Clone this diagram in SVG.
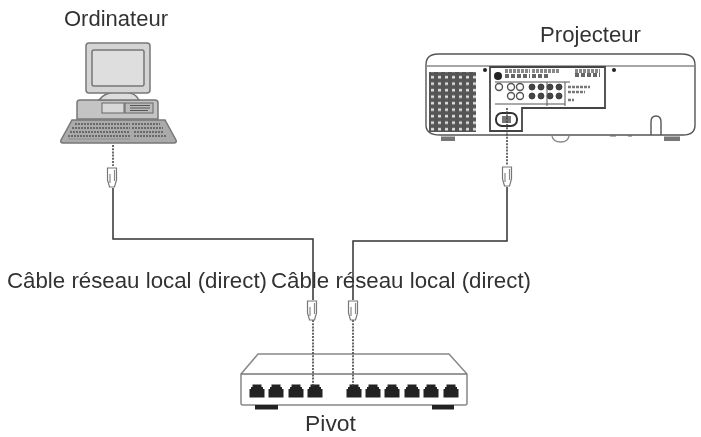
<svg xmlns="http://www.w3.org/2000/svg" width="701" height="437" viewBox="0 0 701 437">
<style>
text{font-family:"Liberation Sans",Arial,sans-serif;fill:#333;font-size:22px}
.o{fill:#fff;stroke:#777;stroke-width:1.5}
.g{fill:#c4c4c4;stroke:#777;stroke-width:1.5}
.k{fill:#222;stroke:none}
.w{fill:none;stroke:#333;stroke-width:1.5}
.dot{fill:none;stroke:#444;stroke-width:1.6;stroke-dasharray:2 1.2}
.plug{fill:#fff;stroke:#777;stroke-width:1.2}
.pl{fill:none;stroke:#888;stroke-width:1.2}
.p{fill:none;stroke:#555;stroke-width:1.4}
.pd{fill:#444;stroke:#333;stroke-width:.8}
.s{filter:url(#soft)}
</style>
<defs>
<filter id="soft" x="-5%" y="-5%" width="110%" height="110%"><feGaussianBlur stdDeviation="0.5"/></filter>
<g id="port"><path class="k" d="M-7.500 6.500V-2H-6V-4H-4.500V-6.500H4.500V-4H6V-2H7.500V6.500Z"/></g>
<g id="plugv"><path class="plug" d="M-4.500 -9H4.500V3L2.500 10H-2.500L-4.500 3Z"/><path class="pl" d="M-2 -3V6M2.500 -7V4"/></g>
<pattern id="vent" width="7" height="6.500" patternUnits="userSpaceOnUse"><rect width="7" height="6.500" fill="#ddd"/><path d="M0 2.500H7M2 0V6.500" stroke="#555" stroke-width="4" fill="none"/></pattern>
</defs>
<g id="ordinateur" class="s">
<text x="64" y="26" textLength="104" lengthAdjust="spacingAndGlyphs">Ordinateur</text>
<path class="g" d="M77 119V103Q77 100 80 100H155Q158 100 158 103V119Z"/>
<path class="o" d="M99 100Q104 93 115 92H125Q136 93 139 100Z" style="fill:#ddd"/>
<rect x="86" y="43" width="64" height="50" rx="3" fill="#d4d4d4" stroke="#777" stroke-width="1.500"/>
<rect x="92" y="50" width="52" height="36" rx="2" fill="#dedede" stroke="#777" stroke-width="1.500"/>
<rect x="102" y="103" width="22" height="10" fill="#d8d8d8" stroke="#666"/>
<rect x="125" y="103" width="28" height="10" fill="#bbb" stroke="#666"/>
<path d="M130 105.500H150M130 108H150M130 110.500H148" stroke="#555" fill="none"/>
<path d="M72 120H165L176 140Q177 143 174 143H63Q60 143 61 140Z" fill="#aaa" stroke="#777" stroke-width="1.500"/>
<path d="M75 124H130M132 124H160M72 128H130M132 128H163M70 132H130M134 132H164M68 136H130M134 136H166" stroke="#555" stroke-width="1.700" stroke-dasharray="2 1" fill="none"/>
<path d="M68 139H130" stroke="#999" stroke-width="1.500"/>
</g>
<g id="projecteur" class="s">
<text x="540" y="42" textLength="101" lengthAdjust="spacingAndGlyphs">Projecteur</text>
<path class="p" d="M426 125V65Q426 54 438 54H682Q695 54 695 65V125Q695 135 683 135H440Q426 135 426 125Z" style="fill:#fff"/>
<path class="p" d="M426 66H695" style="stroke:#888"/>
<rect x="429" y="72" width="47" height="60" fill="url(#vent)"/>
<circle cx="485" cy="70" r="2" class="k"/><circle cx="614" cy="70" r="2" class="k"/>
<path class="p" d="M490 67H605V108H522V131H490Z" style="stroke:#444;fill:#fff;stroke-width:1.800"/>
<circle cx="498" cy="76" r="4" class="k"/>
<path d="M505 71H530M532 71H560M575 71H600" stroke="#888" stroke-width="4" stroke-dasharray="3 1"/>
<path d="M505 76H530M532 76H548M575 75H600" stroke="#666" stroke-width="4" stroke-dasharray="4 2"/>
<circle cx="499" cy="87" r="3.500" class="p"/><circle cx="511" cy="87" r="3.500" class="p"/><circle cx="520" cy="87" r="3.500" class="p"/><circle cx="532" cy="87" r="3" class="pd"/><circle cx="541" cy="87" r="3" class="pd"/><circle cx="550" cy="87" r="3" class="pd"/><circle cx="559" cy="87" r="3" class="pd"/>
<circle cx="511" cy="96" r="3.500" class="p"/><circle cx="520" cy="96" r="3.500" class="p"/><circle cx="532" cy="96" r="3" class="pd"/><circle cx="541" cy="96" r="3" class="pd"/><circle cx="550" cy="96" r="3" class="pd"/><circle cx="559" cy="96" r="3" class="pd"/>
<path class="p" d="M495 104H565M547 82V106M565 82V106M495 82H570" style="stroke-width:1"/>
<path d="M568 87H590M568 92H585M568 100H574" stroke="#777" stroke-width="2.500" stroke-dasharray="3 1"/>
<rect x="496" y="113" width="21" height="13" rx="6" fill="#fff" stroke="#333" stroke-width="2"/>
<rect x="502" y="116" width="9" height="7" fill="#777"/>
<path class="p" d="M651 135V122Q651 116 656 116Q661 116 661 122V135"/>
<path d="M441 136.500H455V141H441ZM664 136.500H680V141H664Z" fill="#777"/>
<path class="p" d="M552 136Q553 142 561 142Q568 142 569 136" style="stroke:#888"/>
<path d="M610 136H616M628 136H632" stroke="#666"/>
</g>
<g id="pivot" class="s">
<path class="o" d="M241 374L258 354H449L467 374V403Q467 405 465 405H243Q241 405 241 403Z" style="stroke:#888"/>
<path class="o" d="M241 374H467" style="stroke:#777"/>
<use href="#port" x="257" y="391"/><use href="#port" x="276" y="391"/><use href="#port" x="296" y="391"/><use href="#port" x="315" y="391"/><use href="#port" x="354" y="391"/><use href="#port" x="373" y="391"/><use href="#port" x="392" y="391"/><use href="#port" x="412" y="391"/><use href="#port" x="431" y="391"/><use href="#port" x="451" y="391"/>
<rect class="k" x="255" y="405" width="23" height="4.500"/><rect class="k" x="432" y="405" width="22" height="4.500"/>
<text x="305" y="431" textLength="51" lengthAdjust="spacingAndGlyphs">Pivot</text>
</g>
<g id="labels" class="s">
<text x="7" y="288" textLength="260" lengthAdjust="spacingAndGlyphs">Câble réseau local (direct)</text>
<text x="271" y="288" textLength="260" lengthAdjust="spacingAndGlyphs">Câble réseau local (direct)</text>
</g>
<g id="connectors" class="s">
<path class="dot" d="M113 145V166"/>
<path class="w" d="M113 188V239H313V300"/>
<path class="dot" d="M313 320V386"/>
<path class="dot" d="M507 108V165"/>
<path class="w" d="M507 187V241H353V300"/>
<path class="dot" d="M353 320V386"/>
</g>
<g id="plugs" class="s">
<use href="#plugv" transform="translate(112,177)"/>
<use href="#plugv" transform="translate(507,176)"/>
<use href="#plugv" transform="translate(312,310)"/>
<use href="#plugv" transform="translate(353,310)"/>
</g>
</svg>
